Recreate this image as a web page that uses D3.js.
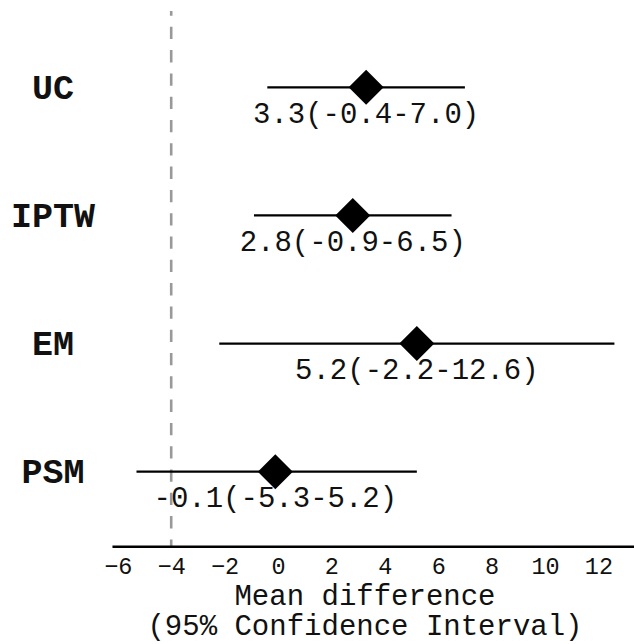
<!DOCTYPE html>
<html lang="en">
<head>
<meta charset="UTF-8">
<title>Forest plot</title>
<style>
  html, body { margin: 0; padding: 0; background: #fff; }
  svg { display: block; }
  text { font-family: 'Liberation Mono', 'Courier New', monospace; fill: #111; }
</style>
</head>
<body>
<div id="chart"></div>
<script src="https://cdn.jsdelivr.net/npm/d3@7"></script>
<script>
// data
const methods = ['UC', 'IPTW', 'EM', 'PSM']
const estimates = [3.3, 2.8, 5.2, -0.1]
const lower = [-0.4, -0.9, -2.2, -5.3]
const upper = [7.0, 6.5, 12.6, 5.2]
const tickValues = [-6, -4, -2, 0, 2, 4, 6, 8, 10, 12]
const refValue = -4
const xTitle = ['Mean difference', '(95% Confidence Interval)']

const width = 634, height = 644
const axisY = 546.7

const rows = methods.map((m, i) => ({
    name: m, est: estimates[i], lo: lower[i], hi: upper[i]
}))

const x = d3.scaleLinear().domain([-6, 12]).range([117.8, 598.4])
const y = d3.scalePoint().domain(methods).range([87.3, 471.7])

const svg = d3.select('#chart').append('svg')
    .attr('width', width)
    .attr('height', height)

svg.append('rect').attr('width', width).attr('height', height).attr('fill', '#fff')

// reference line
svg.append('line')
    .attr('x1', x(refValue)).attr('x2', x(refValue))
    .attr('y1', 11).attr('y2', axisY)
    .attr('stroke', '#999')
    .attr('stroke-width', 2.6)
    .attr('stroke-dasharray', '12.3 11')
    .attr('stroke-dashoffset', 7.5)

// axis, no tick marks
const axis = svg.append('g')
    .attr('transform', `translate(0,${axisY})`)
    .call(d3.axisBottom(x).tickValues(tickValues).tickSize(0).tickPadding(11))
axis.select('.domain').remove()
axis.selectAll('text').style('font-size', '23.5px')

svg.append('line')
    .attr('x1', x(-6.2)).attr('x2', x(13.6))
    .attr('y1', axisY).attr('y2', axisY)
    .attr('stroke', '#000')
    .attr('stroke-width', 2.5)

svg.selectAll('.xtitle')
    .data(xTitle)
    .join('text')
    .attr('class', 'xtitle')
    .attr('x', 365)
    .attr('y', (d, i) => 605 + i * 30)
    .attr('text-anchor', 'middle')
    .style('font-size', '29px')
    .text(d => d)

// rows
const row = svg.selectAll('.row')
    .data(rows)
    .join('g')
    .attr('class', 'row')

row.append('line')
    .attr('x1', d => x(d.lo)).attr('x2', d => x(d.hi))
    .attr('y1', d => y(d.name)).attr('y2', d => y(d.name))
    .attr('stroke', '#000')
    .attr('stroke-width', 2.2)

row.append('path')
    .attr('d', d3.symbol(d3.symbolSquare, 612))
    .attr('transform', d => `translate(${x(d.est)},${y(d.name)}) rotate(45)`)
    .attr('fill', '#000')

row.append('text')
    .attr('x', d => x(d.est))
    .attr('y', d => y(d.name) + 35.5)
    .attr('text-anchor', 'middle')
    .style('font-size', '29px')
    .text(d => `${d.est.toFixed(1)}(${d.lo.toFixed(1)}-${d.hi.toFixed(1)})`)

row.append('text')
    .attr('x', 53)
    .attr('y', d => y(d.name) + 11.5)
    .attr('text-anchor', 'middle')
    .style('font-size', '35px')
    .style('font-weight', 'bold')
    .text(d => d.name)
</script>
</body>
</html>
